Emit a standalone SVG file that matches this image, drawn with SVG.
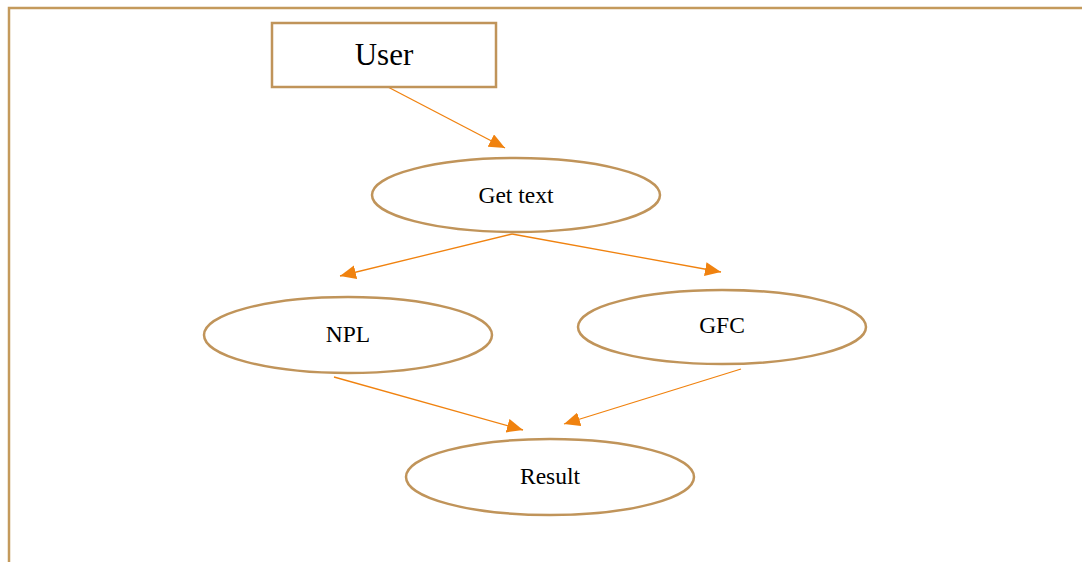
<svg xmlns="http://www.w3.org/2000/svg" width="1082" height="562" viewBox="0 0 1082 562">
<style>
.n{fill:#fff;stroke:#C0945A;stroke-width:2.5}
.t{font-family:"Liberation Serif",serif;fill:#000;text-anchor:middle;dominant-baseline:central;font-size:23.5px}
.c{stroke:#F0820F;stroke-width:1.3;fill:none;marker-end:url(#ah)}
</style>
<defs>
<marker id="ah" viewBox="0 0 16 14" refX="16" refY="7" markerWidth="16" markerHeight="14" markerUnits="userSpaceOnUse" orient="auto">
<path d="M0,0 L16,7 L0,14 Z" fill="#F0820F"/>
</marker>
</defs>
<path d="M9,562 V8 H1082" fill="none" stroke="#C49A5C" stroke-width="2.5"/>
<g id="connectors">
<line class="c" x1="386" y1="86" x2="505" y2="148"/>
<line class="c" x1="512" y1="234" x2="340" y2="276"/>
<line class="c" x1="512" y1="234" x2="721" y2="272"/>
<line class="c" x1="334" y1="377" x2="523" y2="430"/>
<line class="c" x1="741" y1="369" x2="564" y2="424"/>
</g>
<g id="user">
<rect class="n" x="272" y="23" width="224" height="64"/>
<text class="t" x="384" y="54" style="font-size:31px">User</text>
</g>
<g id="gettext">
<ellipse class="n" cx="516" cy="195" rx="144" ry="37"/>
<text class="t" x="516" y="195">Get text</text>
</g>
<g id="npl">
<ellipse class="n" cx="348" cy="335" rx="144" ry="38"/>
<text class="t" x="348" y="334">NPL</text>
</g>
<g id="gfc">
<ellipse class="n" cx="722" cy="327" rx="144" ry="37"/>
<text class="t" x="722" y="325">GFC</text>
</g>
<g id="result">
<ellipse class="n" cx="550" cy="477" rx="144" ry="38"/>
<text class="t" x="550" y="476">Result</text>
</g>
</svg>
